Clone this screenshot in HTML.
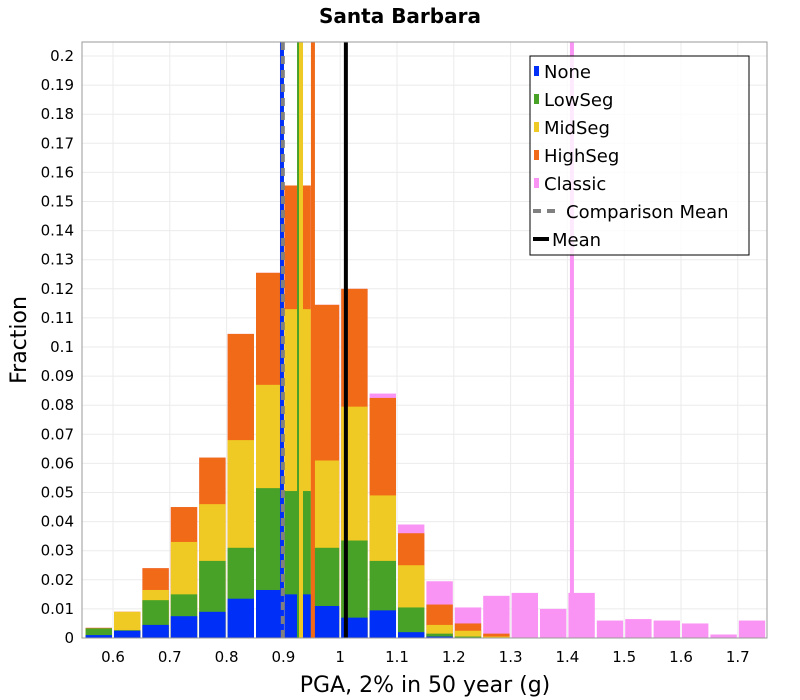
<!DOCTYPE html>
<html><head><meta charset="utf-8"><style>
html,body{margin:0;padding:0;background:#fff;}
svg{display:block;font-family:"DejaVu Sans","Liberation Sans",sans-serif;}
</style></head><body>
<svg id="chart" width="800" height="700" viewBox="0 0 800 700" xmlns="http://www.w3.org/2000/svg">
<rect width="800" height="700" fill="#fff"/>
<text x="400" y="23" text-anchor="middle" font-size="20" font-weight="bold">Santa Barbara</text>
<g id="grid"></g>
<g id="bars"></g>
<g id="means"></g>
<rect x="82" y="42" width="685" height="596" fill="none" stroke="#999" stroke-width="1"/>
<g id="yticks"></g>
<g id="xticks"></g>
<text transform="translate(26,340) rotate(-90)" text-anchor="middle" font-size="22">Fraction</text>
<text x="425" y="692" text-anchor="middle" font-size="22">PGA, 2% in 50 year (g)</text>
<g id="legend"></g>
</svg>
<script>
const binCenters=[0.575,0.625,0.675,0.725,0.775,0.825,0.875,0.925,0.975,1.025,1.075,1.125,1.175,1.225,1.275,1.325,1.375,1.425,1.475,1.525,1.575,1.625,1.675,1.725];
const noneVals=[0.001,0.0025,0.0045,0.0075,0.009,0.0135,0.0165,0.015,0.011,0.007,0.0095,0.002,0.0005,0,0,0,0,0,0,0,0,0,0,0];
const lowVals=[0.0033,0.0027,0.013,0.015,0.0265,0.031,0.0515,0.0505,0.031,0.0335,0.0265,0.0105,0.0015,0.0005,0,0,0,0,0,0,0,0,0,0];
const midVals=[0.0033,0.009,0.0165,0.033,0.046,0.068,0.087,0.113,0.061,0.0795,0.049,0.025,0.0045,0.0025,0.0005,0,0,0,0,0,0,0,0,0];
const highVals=[0.0035,0.009,0.024,0.045,0.062,0.1045,0.1255,0.1555,0.1145,0.12,0.0825,0.036,0.0115,0.005,0.0015,0,0,0,0,0,0,0,0,0];
const classicVals=[0.0035,0.009,0.024,0.045,0.062,0.1045,0.1255,0.1555,0.1145,0.12,0.084,0.039,0.0195,0.0105,0.0145,0.0155,0.010,0.0155,0.006,0.0065,0.006,0.005,0.0012,0.006];
const meanNames=["None","LowSeg","MidSeg","HighSeg","Classic","Mean"];
const meanVals=[0.8975,0.9275,0.931,0.952,1.408,1.010];
const comparisonMean=[0.899];
const yTicks=[0,0.01,0.02,0.03,0.04,0.05,0.06,0.07,0.08,0.09,0.1,0.11,0.12,0.13,0.14,0.15,0.16,0.17,0.18,0.19,0.2];
const yTickLabels=["0","0.01","0.02","0.03","0.04","0.05","0.06","0.07","0.08","0.09","0.1","0.11","0.12","0.13","0.14","0.15","0.16","0.17","0.18","0.19","0.2"];
const xTicks=[0.6,0.7,0.8,0.9,1.0,1.1,1.2,1.3,1.4,1.5,1.6,1.7];
const xTickLabels=["0.6","0.7","0.8","0.9","1","1.1","1.2","1.3","1.4","1.5","1.6","1.7"];

const NS="http://www.w3.org/2000/svg";
const X=v=>113+(v-0.6)*568;
const Y=v=>638-v*2910;
const binW=0.05;
function mk(tag,attrs,parent){const e=document.createElementNS(NS,tag);for(const k in attrs)e.setAttribute(k,attrs[k]);parent.appendChild(e);return e;}
const grid=document.getElementById('grid'),bars=document.getElementById('bars'),means=document.getElementById('means');
const yt=document.getElementById('yticks'),xt=document.getElementById('xticks'),lg=document.getElementById('legend');

yTicks.forEach((t,i)=>{
  const l=mk('line',{x1:82,x2:767,y1:Y(t),y2:Y(t),stroke:'#ebebeb','stroke-width':1},grid);
  
  
  const tx=mk('text',{x:74,y:Y(t)+5,'text-anchor':'end','font-size':15},yt);
  tx.textContent=yTickLabels[i];
  
  
});
xTicks.forEach((t,i)=>{
  const l=mk('line',{x1:X(t),x2:X(t),y1:42,y2:638,stroke:'#ebebeb','stroke-width':1},grid);
  
  
  const tx=mk('text',{x:X(t),y:662,'text-anchor':'middle','font-size':15},xt);
  tx.textContent=xTickLabels[i];
  
  
});

const series=[["classic",classicVals,"#fa94f4"],["highseg",highVals,"#f06a18"],["midseg",midVals,"#f0ca24"],["lowseg",lowVals,"#48a228"],["none",noneVals,"#0030f8"]];
series.forEach(([nm,vals,col])=>{
  vals.forEach((v,i)=>{
    if(v<=0)return;
    const x0=X(binCenters[i]-binW/2)+1,x1=X(binCenters[i]+binW/2)-1;
    const r=mk('rect',{x:x0,y:Y(v),width:x1-x0,height:638-Y(v),fill:col},bars);
    
    
  });
});

const meanCols={"None":"#0030f8","LowSeg":"#48a228","MidSeg":"#f0ca24","HighSeg":"#f06a18","Classic":"#fa94f4","Mean":"#000"};
meanNames.forEach((n,i)=>{
  const l=mk('line',{x1:X(meanVals[i]),x2:X(meanVals[i]),y1:42,y2:638,stroke:meanCols[n],'stroke-width':n==="Mean"?4:4},means);
  
  
});
comparisonMean.forEach(v=>{
  const l=mk('line',{x1:X(v),x2:X(v),y1:42,y2:638,stroke:'#808080','stroke-width':4,'stroke-dasharray':'8,6'},means);
  
  
});

const box=mk('rect',{x:530,y:56,width:219,height:199,fill:'rgba(255,255,255,0.8)',stroke:'#000','stroke-width':1},lg);


const items=[["None","#0030f8","sq"],["LowSeg","#48a228","sq"],["MidSeg","#f0ca24","sq"],["HighSeg","#f06a18","sq"],["Classic","#fa94f4","sq"],["Comparison Mean","#808080","dash"],["Mean","#000","line"]];
items.forEach((it,i)=>{
  const cy=71+i*28;
  const g=mk('g',{},lg);
  
  
  let tx0;
  if(it[2]==="sq"){mk('rect',{x:534,y:cy-5,width:5,height:10,fill:it[1]},g);tx0=544;}
  else if(it[2]==="dash"){mk('line',{x1:533,x2:561,y1:cy,y2:cy,stroke:it[1],'stroke-width':4,'stroke-dasharray':'8,6'},g);tx0=566;}
  else{mk('line',{x1:533,x2:549,y1:cy,y2:cy,stroke:it[1],'stroke-width':4},g);tx0=552;}
  const t=mk('text',{x:tx0,y:cy+7,'font-size':18},g);
  t.textContent=it[0];
});
</script>
</body></html>
